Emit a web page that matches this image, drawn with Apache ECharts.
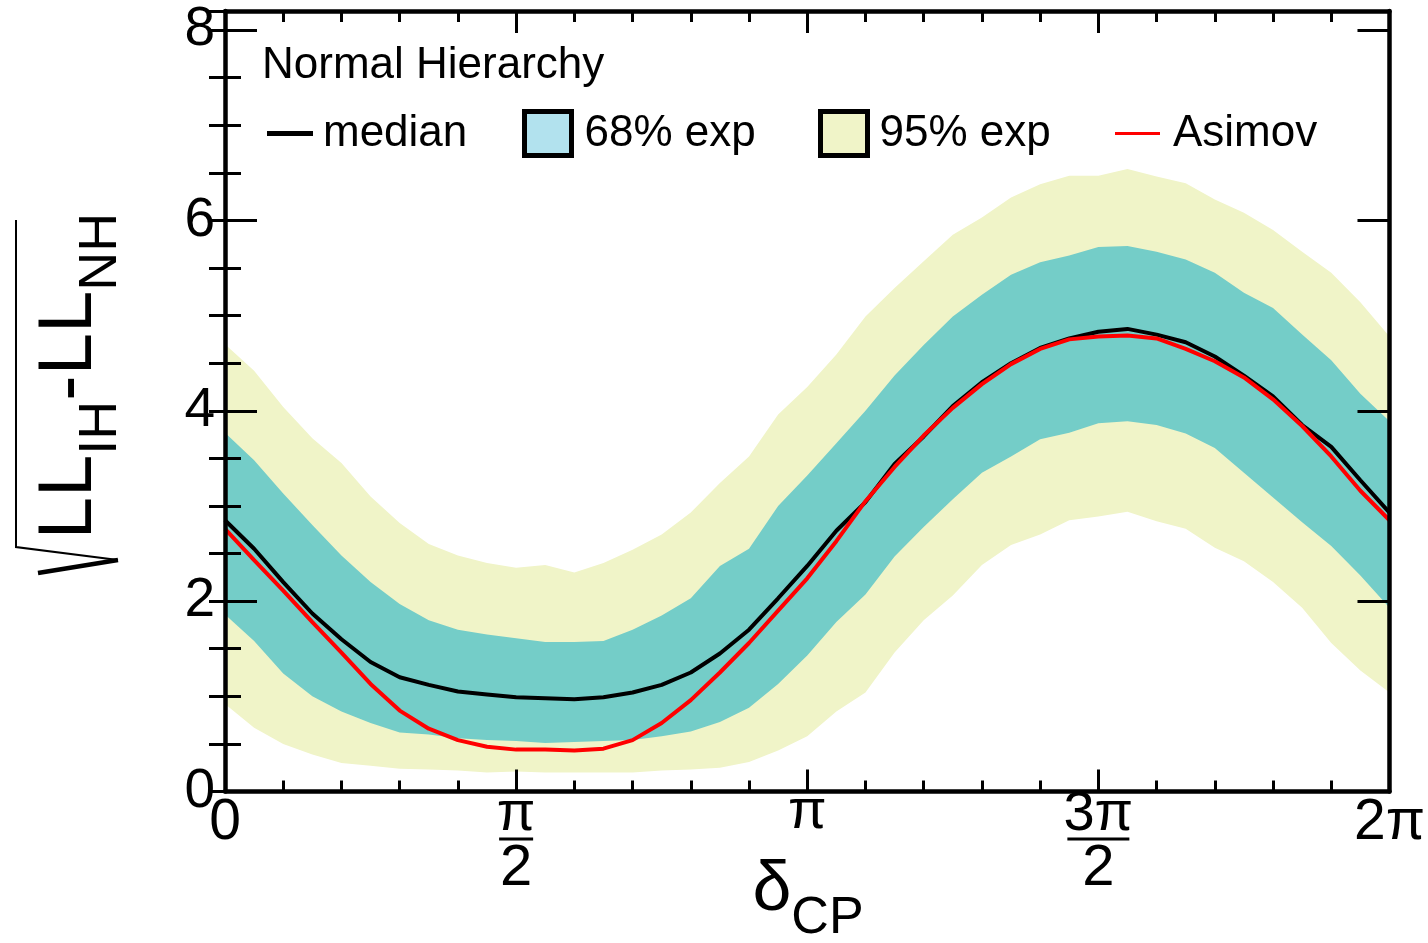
<!DOCTYPE html>
<html><head><meta charset="utf-8">
<script src="https://cdn.jsdelivr.net/npm/echarts@6/dist/echarts.min.js"></script>
<style>html,body{margin:0;padding:0;background:#fff}#c{width:1428px;height:943px}</style>
</head><body><div id="c"></div>
<script>
// delta_CP in units of pi
const deltaCP = [0,0.05,0.1,0.15,0.2,0.25,0.3,0.35,0.4,0.45,0.5,0.55,0.6,0.65,0.7,0.75,0.8,0.85,0.9,0.95,1,1.05,1.1,1.15,1.2,1.25,1.3,1.35,1.4,1.45,1.5,1.55,1.6,1.65,1.7,1.75,1.8,1.85,1.9,1.95,2];
const upper95 = [4.70,4.42,4.04,3.71,3.45,3.10,2.82,2.60,2.48,2.40,2.35,2.38,2.30,2.40,2.54,2.70,2.93,3.24,3.52,3.96,4.25,4.59,4.99,5.29,5.57,5.85,6.03,6.24,6.38,6.47,6.47,6.54,6.46,6.39,6.22,6.08,5.90,5.67,5.45,5.14,4.78];
const upper68 = [3.77,3.48,3.13,2.80,2.48,2.20,1.97,1.80,1.70,1.65,1.61,1.57,1.57,1.58,1.70,1.85,2.03,2.37,2.55,3.00,3.32,3.66,4.00,4.37,4.69,4.99,5.22,5.43,5.56,5.63,5.72,5.73,5.67,5.59,5.45,5.24,5.08,4.80,4.53,4.18,3.89];
const median  = [2.85,2.55,2.20,1.87,1.60,1.36,1.20,1.12,1.05,1.02,0.99,0.98,0.97,0.99,1.04,1.12,1.25,1.45,1.70,2.03,2.37,2.74,3.04,3.44,3.73,4.05,4.30,4.50,4.66,4.76,4.83,4.86,4.80,4.72,4.57,4.37,4.15,3.85,3.62,3.27,2.93];
const asimov  = [2.76,2.43,2.11,1.78,1.46,1.13,0.85,0.66,0.54,0.47,0.44,0.44,0.43,0.45,0.54,0.72,0.96,1.25,1.56,1.90,2.24,2.63,3.05,3.41,3.74,4.03,4.28,4.49,4.65,4.75,4.78,4.79,4.76,4.65,4.52,4.35,4.12,3.84,3.52,3.16,2.85];
const lower68 = [1.86,1.58,1.24,1.00,0.84,0.72,0.62,0.60,0.56,0.54,0.53,0.51,0.52,0.53,0.54,0.58,0.63,0.73,0.88,1.13,1.43,1.78,2.07,2.47,2.78,3.07,3.35,3.52,3.70,3.77,3.87,3.89,3.85,3.76,3.61,3.35,3.09,2.83,2.58,2.27,1.93];
const lower95 = [0.92,0.67,0.50,0.39,0.30,0.27,0.24,0.23,0.22,0.20,0.21,0.20,0.20,0.20,0.20,0.22,0.23,0.25,0.31,0.43,0.58,0.84,1.04,1.46,1.80,2.06,2.38,2.59,2.70,2.85,2.89,2.94,2.84,2.76,2.56,2.42,2.20,1.93,1.56,1.27,1.04];
// x tick labels (numerator / denominator), at 0, pi/2, pi, 3pi/2, 2pi
const xTickNum = ['0','π','π','3π','2π'];
const xTickDen = ['','2','','2',''];
const yTickLabels = ['0','2','4','6','8'];

const FF = '"Liberation Sans", Arial, Helvetica, sans-serif';
const YEL = '#f0f4c8', TEAL = '#74cdc8', LBLUE = '#b2e2ee';

const pairs = arr => deltaCP.map((x, i) => [x, arr[i]]);

function xLabel(v) {
  const i = Math.round(v / 0.5);
  if (Math.abs(v - i * 0.5) > 1e-6 || i < 0 || i > 4) return '';
  const num = xTickNum[i], den = xTickDen[i];
  if (den) return '{n|' + num + '}\n{' + (num.length > 1 ? 'bar3' : 'bar1') + '|}\n{d|' + den + '}';
  if (num === 'π') return '{p|π}';
  return '{t|' + num + '}';
}
function yLabel(v) {
  const r = Math.round(v);
  if (Math.abs(v - r) > 1e-6 || r % 2 !== 0) return '';
  const i = r / 2;
  return yTickLabels[i] !== undefined ? yTickLabels[i] : '';
}

const axLine = {show: true, onZero: false, lineStyle: {color: '#000', width: 4.5}};
const tickStyle = {color: '#000', width: 3};
const bandSeries = (name, arr, col) => ({
  name: name, type: 'line', data: pairs(arr), symbol: 'none', silent: true, color: col,
  lineStyle: {width: 0, opacity: 0}, areaStyle: {color: col, opacity: 1, origin: 'start'}
});

const chart = echarts.init(document.getElementById('c'), null, {renderer: 'canvas'});
chart.setOption({
  animation: false,
  backgroundColor: '#fff',
  grid: {left: 225, right: 34, top: 11, bottom: 151.5, containLabel: false},
  title: {text: 'Normal Hierarchy', left: 262, top: 43.5, padding: 0,
    textStyle: {fontSize: 44, fontWeight: 'normal', fontFamily: FF, color: '#000'}},
  legend: [
    {left: 267, top: 111.5, padding: 0, itemWidth: 46, itemHeight: 5, selectedMode: false,
      data: [{name: 'median', icon: 'rect', itemStyle: {color: '#000', borderWidth: 0}}],
      textStyle: {fontSize: 44, fontFamily: FF, color: '#000', padding: [0, 0, 0, 5]}},
    {left: 522, top: 109, padding: 0, itemWidth: 47, itemHeight: 44, selectedMode: false,
      data: [{name: '68% exp', icon: 'rect', itemStyle: {color: LBLUE, borderColor: '#000', borderWidth: 5}}],
      textStyle: {fontSize: 44, fontFamily: FF, color: '#000', padding: [0, 0, 0, 8]}},
    {left: 818, top: 109, padding: 0, itemWidth: 47, itemHeight: 44, selectedMode: false,
      data: [{name: '95% exp', icon: 'rect', itemStyle: {color: YEL, borderColor: '#000', borderWidth: 5}}],
      textStyle: {fontSize: 44, fontFamily: FF, color: '#000', padding: [0, 0, 0, 7]}},
    {left: 1115, top: 111.5, padding: 0, itemWidth: 45, itemHeight: 3, selectedMode: false,
      data: [{name: 'Asimov', icon: 'rect', itemStyle: {color: '#ff0000', borderWidth: 0}}],
      textStyle: {fontSize: 44, fontFamily: FF, color: '#000', padding: [0, 0, 0, 8]}}
  ],
  xAxis: [
    {type: 'value', position: 'bottom', min: 0, max: 2, interval: 0.5, z: 10,
      axisLine: axLine,
      axisTick: {show: true, inside: true, length: 22, lineStyle: tickStyle},
      minorTick: {show: true, splitNumber: 5, length: 11, lineStyle: tickStyle},
      splitLine: {show: false}, minorSplitLine: {show: false},
      axisLabel: {margin: 0, formatter: xLabel, color: '#000', fontFamily: FF,
        rich: {
          n: {fontSize: 56, fontFamily: FF, color: '#000', lineHeight: 46},
          bar1: {width: 34, height: 3, backgroundColor: '#000'},
          bar3: {width: 62, height: 3, backgroundColor: '#000'},
          d: {fontSize: 58, fontFamily: FF, color: '#000', lineHeight: 57},
          t: {fontSize: 57, fontFamily: FF, color: '#000', lineHeight: 64},
          p: {fontSize: 56, fontFamily: FF, color: '#000', lineHeight: 42}
        }}},
    {type: 'value', position: 'top', min: 0, max: 2, interval: 0.5, z: 10,
      axisLine: axLine,
      axisTick: {show: true, inside: true, length: 22, lineStyle: tickStyle},
      minorTick: {show: true, splitNumber: 5, length: 11, lineStyle: tickStyle},
      splitLine: {show: false}, axisLabel: {show: false}}
  ],
  yAxis: [
    {type: 'value', position: 'left', min: 0, max: 8.2, interval: 2, z: 10,
      axisLine: axLine,
      axisTick: {show: true, inside: true, length: 32, lineStyle: tickStyle},
      splitLine: {show: false},
      axisLabel: {margin: 10, formatter: yLabel, fontSize: 55, fontFamily: FF, color: '#000'}},
    {type: 'value', position: 'left', min: 0, max: 8.2, interval: 0.5, z: 10,
      axisLine: {show: false},
      axisTick: {show: true, inside: true, length: 16, lineStyle: tickStyle},
      splitLine: {show: false}, axisLabel: {show: false}},
    {type: 'value', position: 'right', min: 0, max: 8.2, interval: 2, z: 10,
      axisLine: axLine,
      axisTick: {show: true, inside: true, length: 32, lineStyle: tickStyle},
      splitLine: {show: false}, axisLabel: {show: false}},
    {type: 'value', position: 'right', min: 0, max: 8.2, interval: 0.5, z: 10,
      axisLine: {show: false},
      axisTick: {show: true, inside: true, length: 16, lineStyle: tickStyle},
      splitLine: {show: false}, axisLabel: {show: false}}
  ],
  series: [
    bandSeries('95% exp', upper95, YEL),
    bandSeries('68% exp', upper68, TEAL),
    bandSeries('95% exp', lower68, YEL),
    bandSeries('lo95', lower95, '#ffffff'),
    {name: 'median', type: 'line', data: pairs(median), symbol: 'none', color: '#000',
      lineStyle: {color: '#000', width: 4}},
    {name: 'Asimov', type: 'line', data: pairs(asimov), symbol: 'none', smooth: false, color: '#ff0000',
      lineStyle: {color: '#ff0000', width: 4}}
  ],
  graphic: [
    {type: 'text', x: 80, y: 376, rotation: Math.PI / 2,
      style: {text: '{a|LL}{b|IH}{a|-LL}{b|NH}', align: 'center', verticalAlign: 'middle', fill: '#000',
        rich: {
          a: {fontSize: 76, fontFamily: FF, fill: '#000', color: '#000', lineHeight: 96, verticalAlign: 'top'},
          b: {fontSize: 54, fontFamily: FF, fill: '#000', color: '#000', verticalAlign: 'bottom'}
        }}},
    {type: 'polyline', shape: {points: [[16, 220], [16, 547], [118, 560]]},
      style: {stroke: '#000', lineWidth: 2, fill: null}},
    {type: 'line', shape: {x1: 118, y1: 560, x2: 38, y2: 573},
      style: {stroke: '#000', lineWidth: 4.5}},
    {type: 'text', x: 808, y: 900,
      style: {text: '{d|δ}{s|CP}', align: 'center', verticalAlign: 'middle', fill: '#000',
        rich: {
          d: {fontSize: 70, fontFamily: FF, fill: '#000', color: '#000', lineHeight: 89, verticalAlign: 'top'},
          s: {fontSize: 52, fontFamily: FF, fill: '#000', color: '#000', verticalAlign: 'bottom'}
        }}}
  ]
});
</script>
</body></html>
